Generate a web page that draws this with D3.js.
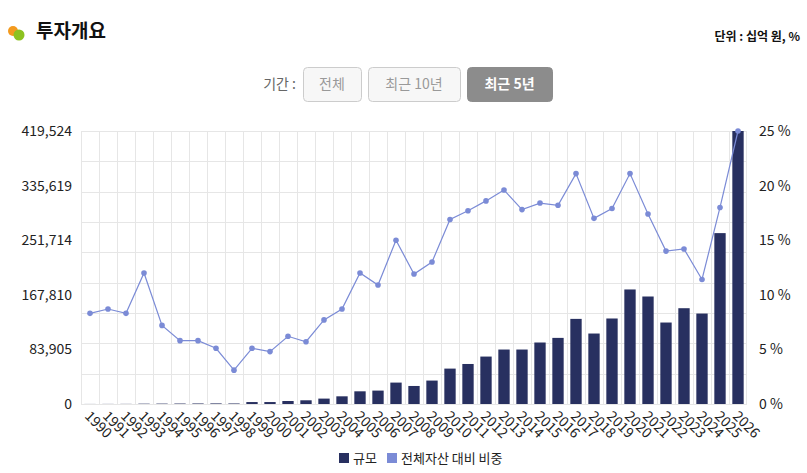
<!DOCTYPE html>
<html>
<head>
<meta charset="utf-8">
<script src="https://cdn.jsdelivr.net/npm/d3@7"></script>
<style>
  body { margin: 0; background: #fff; font-family: "Noto Sans CJK KR", "Noto Sans", sans-serif; }
  svg text { font-family: "Noto Sans CJK KR", "Noto Sans", sans-serif; }
</style>
</head>
<body>
<svg id="chart" width="807" height="473"></svg>
<script>
// data
let years = d3.range(1990, 2027).map(String);
let scaleValues = [100, 150, 200, 500, 600, 700, 800, 900, 800, 3000,
  3000, 4600, 5700, 8300, 11800, 19500, 20600, 32900, 27700, 36000,
  54400, 61500, 72900, 83700, 83700, 94500, 101600, 130800, 108300, 131400,
  176000, 165200, 125200, 147200, 139000, 262600, 419524];
let shareValues = [8.3, 8.7, 8.3, 12.0, 7.2, 5.8, 5.8, 5.1, 3.1, 5.1,
  4.8, 6.2, 5.7, 7.7, 8.7, 12.0, 10.9, 15.0, 11.9, 13.0,
  16.9, 17.7, 18.6, 19.6, 17.8, 18.4, 18.2, 21.1, 17.0, 17.9,
  21.1, 17.4, 14.0, 14.2, 11.4, 18.0, 25.0];
let leftTicks = [0, 83905, 167810, 251714, 335619, 419524];
let rightTicks = [0, 5, 10, 15, 20, 25];
let periodButtons = ["전체", "최근 10년", "최근 5년"];
let legendItems = ["규모", "전체자산 대비 비중"];

let barColor = "#283060";
let lineColor = "#7b8bd6";

let svg = d3.select("#chart");
let margin = { left: 81, right: 60, top: 131, bottom: 69 };
let width = 807, height = 473;
let plotW = width - margin.left - margin.right;
let plotH = height - margin.top - margin.bottom;

// header
svg.append("circle").attr("cx", 13).attr("cy", 31).attr("r", 5).attr("fill", "#f39a1e");
svg.append("circle").attr("cx", 19).attr("cy", 35).attr("r", 5.5).attr("fill", "#8cc21f");
svg.append("text").attr("x", 36).attr("y", 38).text("투자개요")
  .style("font-size", "19px").style("font-weight", "bold").attr("fill", "#111");
svg.append("text").attr("x", 800).attr("y", 41).attr("text-anchor", "end")
  .text("단위 : 십억 원, %").style("font-size", "12px").style("font-weight", "bold").attr("fill", "#111");

// period buttons
svg.append("text").attr("x", 296).attr("y", 89).attr("text-anchor", "end")
  .text("기간 :").style("font-size", "14px").attr("fill", "#666");
let btnX = [303, 368, 467];
let btnW = [58, 92, 85];
periodButtons.forEach((label, i) => {
  let active = i === 2;
  svg.append("rect")
    .attr("x", btnX[i] + 0.5).attr("y", 67.5)
    .attr("width", btnW[i]).attr("height", 34).attr("rx", 4)
    .attr("fill", active ? "#8c8c8c" : "#f7f7f7")
    .attr("stroke", active ? "#8c8c8c" : "#cccccc");
  svg.append("text")
    .attr("x", btnX[i] + btnW[i] / 2).attr("y", 89).attr("text-anchor", "middle")
    .text(label).style("font-size", "14px")
    .style("font-weight", active ? "bold" : "normal")
    .attr("fill", active ? "#fff" : "#999");
});

// scales
let x = d3.scaleBand().domain(years).range([margin.left, margin.left + plotW]).paddingInner(0.37).paddingOuter(0.185);
let band = d3.scaleBand().domain(years).range([margin.left, margin.left + plotW]);
let yLeft = d3.scaleLinear().domain([0, 419524]).range([margin.top + plotH, margin.top]);
let yRight = d3.scaleLinear().domain([0, 25]).range([margin.top + plotH, margin.top]);

// grid
let grid = svg.append("g").attr("stroke", "#e6e6e6").attr("stroke-width", 1);
d3.range(10).forEach(i => {
  let yy = Math.round(yLeft(419524 * i / 9)) + 0.5;
  grid.append("line").attr("x1", margin.left).attr("x2", margin.left + plotW).attr("y1", yy).attr("y2", yy);
});
years.forEach(yr => {
  let xx = Math.round(band(yr)) + 0.5;
  grid.append("line").attr("x1", xx).attr("x2", xx).attr("y1", margin.top).attr("y2", margin.top + plotH);
});
grid.append("line").attr("x1", margin.left + plotW - 0.5).attr("x2", margin.left + plotW - 0.5)
  .attr("y1", margin.top).attr("y2", margin.top + plotH);

// bars
svg.append("g").selectAll("rect")
  .data(scaleValues)
  .join("rect")
  .attr("x", (d, i) => x(years[i]))
  .attr("width", x.bandwidth())
  .attr("y", d => yLeft(d))
  .attr("height", d => yLeft(0) - yLeft(d))
  .attr("fill", barColor);

// line
let cx = i => band(years[i]) + band.bandwidth() / 2;
svg.append("path")
  .datum(shareValues)
  .attr("fill", "none")
  .attr("stroke", lineColor)
  .attr("stroke-width", 1.2)
  .attr("d", d3.line().x((d, i) => cx(i)).y(d => yRight(d)));
svg.append("g").selectAll("circle")
  .data(shareValues)
  .join("circle")
  .attr("cx", (d, i) => cx(i))
  .attr("cy", d => yRight(d))
  .attr("r", 2.8)
  .attr("fill", lineColor);

// axes
let leftAxis = svg.append("g")
  .attr("transform", `translate(${margin.left},0)`)
  .call(d3.axisLeft(yLeft).tickValues(leftTicks).tickSize(0).tickPadding(9).tickFormat(d3.format(",")));
leftAxis.select(".domain").remove();
leftAxis.selectAll("text").style("font-size", "14px").attr("fill", "#222");

let rightAxis = svg.append("g")
  .attr("transform", `translate(${margin.left + plotW},0)`)
  .call(d3.axisRight(yRight).tickValues(rightTicks).tickSize(0).tickPadding(12).tickFormat(d => d + " %"));
rightAxis.select(".domain").remove();
rightAxis.selectAll("text").style("font-size", "14px").attr("fill", "#222");

let bottomAxis = svg.append("g")
  .attr("transform", `translate(0,${margin.top + plotH})`)
  .call(d3.axisBottom(band).tickSize(0).tickPadding(0));
bottomAxis.select(".domain").remove();
bottomAxis.selectAll("text")
  .style("font-size", "14px")
  .attr("fill", "#222")
  .attr("text-anchor", "start")
  .attr("dy", null)
  .attr("transform", "translate(-6,13) rotate(45)");

// legend
let legend = svg.append("g").attr("transform", "translate(339,453)");
let legX = [0, 48];
legendItems.forEach((label, i) => {
  legend.append("rect").attr("x", legX[i]).attr("y", 0).attr("width", 10).attr("height", 10)
    .attr("fill", i === 0 ? barColor : lineColor);
  legend.append("text").attr("x", legX[i] + 14).attr("y", 10).text(label)
    .style("font-size", "13px").attr("fill", "#222");
});
</script>
</body>
</html>
